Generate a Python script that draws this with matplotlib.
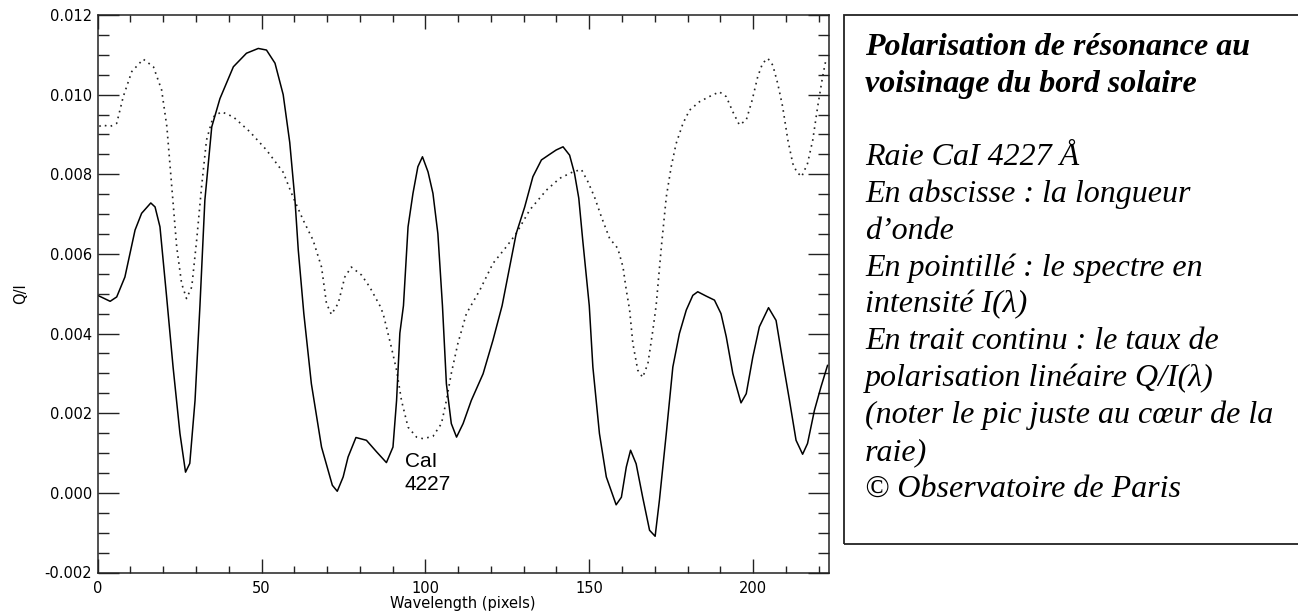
import matplotlib
matplotlib.use("Agg")
import matplotlib.pyplot as plt
from matplotlib.patches import Rectangle
from matplotlib.ticker import MultipleLocator, FormatStrFormatter

# Q/I (solid line)
qi_x = [0, 3.8, 5.8, 8.3, 11.4, 13.4, 16.2, 17.5, 19, 21, 23, 25.1, 26.8, 28.1, 29.7,
        31.2, 32.7, 34.8, 37.3, 41.4, 45.4, 49, 51.5, 54.1, 56.6, 58.6, 60.2, 61.2,
        62.9, 65.2, 68.3, 71.6, 73.1, 74.9, 76.4, 78.8, 82, 85.1, 88.1, 90.1, 91.2,
        92.2, 93.3, 94.7, 96.2, 97.7, 99.1, 100.8, 102.3, 103.8, 105.2, 106.4, 107.9,
        109.5, 111.5, 114, 117.6, 120.6, 123.4, 125.7, 127.7, 130.3, 132.8, 135.4,
        137.9, 139.9, 142, 144, 145.5, 146.8, 148, 150, 151.1, 153.1, 155.2, 158.2,
        159.8, 161.3, 162.6, 164.3, 166.3, 168.4, 170.1, 171.4, 173.5, 175.5, 177.5,
        179.6, 181.6, 183.1, 185.7, 188.2, 190.2, 191.8, 193.8, 196.3, 197.9, 199.9,
        201.9, 204.7, 207, 209, 211.1, 213.1, 215.1, 216.6, 218.7, 220.7, 222.7]
qi_y = [0.00496, 0.00481, 0.00492, 0.00542, 0.0066, 0.00702, 0.00728, 0.00718, 0.00668,
        0.00495, 0.00316, 0.00149, 0.00052, 0.00074, 0.00232, 0.0047, 0.00735, 0.00919,
        0.0099, 0.0107, 0.01104, 0.01116, 0.01112, 0.01079, 0.0100, 0.0088, 0.00735,
        0.0061, 0.0045, 0.00274, 0.00115, 0.00019, 0.00004, 0.0004, 0.0009, 0.00139,
        0.00132, 0.00103, 0.00076, 0.00115, 0.00232, 0.00401, 0.0047, 0.00668, 0.00752,
        0.00819, 0.00844, 0.00806, 0.00752, 0.00651, 0.0047, 0.00274, 0.00174, 0.0014,
        0.00174, 0.00232, 0.00299, 0.00383, 0.0047, 0.00567, 0.00651, 0.00718, 0.00794,
        0.00836, 0.0085, 0.00861, 0.00869, 0.00848, 0.00802, 0.0074, 0.00635, 0.0047,
        0.00316, 0.00149, 0.0004, -0.0003, -0.00011, 0.00065, 0.00107, 0.00073,
        -0.00011, -0.00094, -0.00109, -0.00019, 0.00149, 0.00316, 0.004, 0.00459,
        0.00496, 0.00505, 0.00494, 0.00484, 0.0045, 0.00392, 0.003, 0.00226, 0.00249,
        0.00341, 0.00417, 0.00465, 0.00433, 0.00333, 0.00232, 0.00132, 0.00097,
        0.00124, 0.00207, 0.00266, 0.0032]

# intensity spectrum (dotted line), scaled like in the picture
int_x = [0.5, 1.2, 3.8, 5.8, 7.8, 10.4, 13.9, 17, 19.5, 21.1, 22.6, 24.1, 25.6, 27.1,
         28.7, 30.2, 31.7, 33.2, 35.2, 37.8, 41.4, 46.4, 51.5, 56.6, 59.6, 62.7, 65.7,
         68.3, 69.8, 71.3, 73.4, 75.4, 77.4, 80.5, 83, 86.1, 87.1, 89.6, 91.2, 92.7,
         94.7, 97.3, 99.3, 102.3, 104.9, 106.4, 107.9, 109.9, 112.5, 116.6, 120.6,
         124.7, 127.7, 131.8, 136.9, 141, 145, 147.6, 149.6, 151.6, 153.7, 156.2, 158.7,
         160.3, 161.3, 162.3, 163.3, 164.8, 166.3, 167.9, 169.4, 170.4, 172, 173.5, 175,
         176.5, 178.6, 180.6, 183.6, 186.6, 189.7, 191.8, 193.8, 195.8, 197.9, 199.7,
         201.4, 202.9, 204.5, 206, 207.5, 209, 210.6, 212.1, 213.3, 214.8, 216.6, 218.2,
         219.7, 221.2, 222.2]
int_y = [0.0092, 0.00924, 0.0092, 0.00928, 0.00995, 0.01058, 0.01089, 0.0107, 0.01012,
         0.0092, 0.00769, 0.00618, 0.00526, 0.00488, 0.00517, 0.00635, 0.00769, 0.00886,
         0.00944, 0.00957, 0.00944, 0.00907, 0.00861, 0.00805, 0.00743, 0.00685, 0.00635,
         0.00567, 0.00476, 0.00448, 0.00476, 0.00542, 0.00567, 0.00547, 0.00517, 0.0047,
         0.0045, 0.00366, 0.00308, 0.00232, 0.00165, 0.0014, 0.00136, 0.00142, 0.00174,
         0.00232, 0.003, 0.00375, 0.0045, 0.00509, 0.00576, 0.00618, 0.00651, 0.0071,
         0.0076, 0.0079, 0.00806, 0.00812, 0.00781, 0.00743, 0.00693, 0.00639, 0.00614,
         0.00567, 0.00509, 0.0046, 0.00375, 0.00308, 0.0029, 0.00325, 0.00408, 0.0047,
         0.00618, 0.00743, 0.00819, 0.00877, 0.00928, 0.00961, 0.00982, 0.00995, 0.01007,
         0.00995, 0.00957, 0.00924, 0.00936, 0.00986, 0.01045, 0.01079, 0.01091, 0.01074,
         0.01028, 0.0097, 0.00886, 0.00827, 0.00806, 0.00794, 0.00827, 0.00886, 0.0097,
         0.01045, 0.01087]

title_lines = ["Polarisation de résonance au", "voisinage du bord solaire"]
body_lines = ["Raie CaI 4227 Å",
              "En abscisse : la longueur",
              "d’onde",
              "En pointillé : le spectre en",
              "intensité I(λ)",
              "En trait continu : le taux de",
              "polarisation linéaire Q/I(λ)",
              "(noter le pic juste au cœur de la",
              "raie)",
              "© Observatoire de Paris"]

W, H = 1298, 613
fig = plt.figure(figsize=(W / 100, H / 100), dpi=100)
ax = fig.add_axes([97.7 / W, 1 - 572.5 / H, (828.5 - 97.7) / W, (572.5 - 15) / H])

ax.plot(int_x, int_y, color="#222222", lw=1.2, linestyle=(0, (1, 2.6)))
ax.plot(qi_x, qi_y, color="black", lw=1.1)

ax.set_xlim(0, 223)
ax.set_ylim(-0.002, 0.012)
ax.xaxis.set_major_locator(MultipleLocator(50))
ax.xaxis.set_minor_locator(MultipleLocator(10))
ax.yaxis.set_major_locator(MultipleLocator(0.002))
ax.yaxis.set_minor_locator(MultipleLocator(0.0005))
ax.yaxis.set_major_formatter(FormatStrFormatter("%.3f"))
ax.tick_params(which="both", direction="in", top=True, right=True, width=1,
               labelsize=10.5, color="#222222")
ax.tick_params(axis="x", which="major", length=10, pad=6)
ax.tick_params(axis="x", which="minor", length=5)
ax.tick_params(axis="y", which="major", length=15, pad=4)
ax.tick_params(axis="y", which="minor", length=8)
for s in ax.spines.values():
    s.set_linewidth(1.1)
    s.set_color("#222222")

ax.set_xlabel("Wavelength (pixels)", fontsize=10.5, labelpad=0)
ax.set_ylabel("Q/I", fontsize=10.5, labelpad=12)

# line label under the dip
ax.text(93.7, 0.00065, "CaI", fontsize=15, family="Liberation Sans",
        va="baseline", ha="left")
ax.text(93.7, 0.00006, "4227", fontsize=15, family="Liberation Sans",
        va="baseline", ha="left")

# text box on the right
fig.patches.append(Rectangle((844 / W, 1 - 544 / H), 0.5, (544 - 15) / H,
                             transform=fig.transFigure, fill=False,
                             edgecolor="#222222", lw=1.3))
tx = 865 / W
step = 36.8
y0 = 55
for i, line in enumerate(title_lines):
    fig.text(tx, 1 - (y0 + i * step) / H, line, family="Liberation Serif",
             style="italic", weight="bold", fontsize=23, va="baseline")
for i, line in enumerate(body_lines):
    fig.text(tx, 1 - (y0 + (i + 3) * step) / H, line, family="Liberation Serif",
             style="italic", fontsize=23, va="baseline")

fig.savefig("out.png", dpi=100)
